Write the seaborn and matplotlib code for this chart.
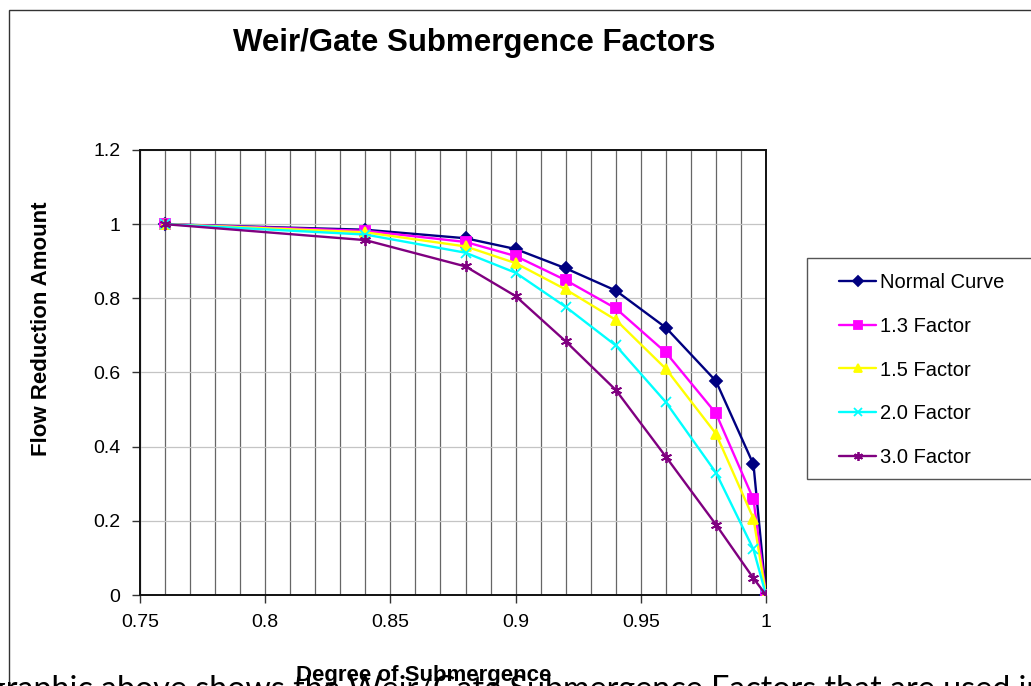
import matplotlib
matplotlib.use("Agg")
import matplotlib.pyplot as plt
from matplotlib.ticker import MultipleLocator, FuncFormatter
from matplotlib.patches import Rectangle
import seaborn as sns
import pandas as pd

# ---------------- data ----------------
submergence = [0.76, 0.84, 0.88, 0.90, 0.92, 0.94, 0.96, 0.98, 0.995, 1.0]
normal_curve = [1.0, 0.985, 0.962, 0.933, 0.881, 0.821, 0.721, 0.577, 0.352, 0.0]
factor_13 = [1.0, 0.982, 0.952, 0.914, 0.849, 0.773, 0.654, 0.490, 0.258, 0.0]
factor_15 = [1.0, 0.978, 0.940, 0.895, 0.824, 0.742, 0.610, 0.435, 0.206, 0.0]
factor_20 = [1.0, 0.972, 0.923, 0.869, 0.777, 0.673, 0.520, 0.330, 0.123, 0.0]
factor_30 = [1.0, 0.957, 0.886, 0.806, 0.684, 0.553, 0.373, 0.190, 0.045, 0.0]
series_names = ["Normal Curve", "1.3 Factor", "1.5 Factor", "2.0 Factor", "3.0 Factor"]
series_values = [normal_curve, factor_13, factor_15, factor_20, factor_30]

title_text = "Weir/Gate Submergence Factors"
xlabel_text = "Degree of Submergence"
ylabel_text = "Flow Reduction Amount"
body_text = "graphic above shows the Weir/Gate Submergence Factors that are used in"

# ---------------- styles ----------------
colors = ["#000080", "#FF00FF", "#FFFF00", "#00FFFF", "#800080"]
markers = ["D", "s", "^", "x", (6, 2, 0)]
msizes = [6, 7, 7.5, 7, 8]

sns.set_theme(style="white")
plt.rcParams["font.family"] = ["Liberation Sans", "DejaVu Sans"]
plt.rcParams["text.color"] = "black"
plt.rcParams["axes.labelcolor"] = "black"

W, H = 1031, 686
fig = plt.figure(figsize=(W / 100, H / 100), dpi=100)
ax = fig.add_axes([140 / W, 1 - 595 / H, (766 - 140) / W, (595 - 150) / H])

frames = []
for name, vals in zip(series_names, series_values):
    frames.append(pd.DataFrame({"x": submergence, "y": vals, "series": name}))
df = pd.concat(frames, ignore_index=True)

for name, c, m, ms in zip(series_names, colors, markers, msizes):
    sub = df[df["series"] == name]
    sns.lineplot(data=sub, x="x", y="y", ax=ax, color=c, marker=m,
                 markersize=ms, markeredgecolor=c, markeredgewidth=1.3,
                 linewidth=1.7, label=name, zorder=3, sort=False)

ax.set_xlim(0.75, 1.0)
ax.set_ylim(0, 1.2)
ax.xaxis.set_major_locator(MultipleLocator(0.05))
ax.xaxis.set_minor_locator(MultipleLocator(0.01))
ax.yaxis.set_major_locator(MultipleLocator(0.2))
fmt = FuncFormatter(lambda v, p: ("%.2f" % v).rstrip("0").rstrip("."))
ax.xaxis.set_major_formatter(fmt)
ax.yaxis.set_major_formatter(fmt)

ax.grid(False)
ax.xaxis.grid(True, which="both", color="#666666", linewidth=0.9)
ax.yaxis.grid(True, which="major", color="#c4c4c4", linewidth=0.9)
ax.set_axisbelow(True)

ax.tick_params(axis="both", which="major", direction="out", length=6, width=1,
               color="#333333", labelsize=14, pad=8, labelcolor="black")
ax.tick_params(axis="both", which="minor", length=0)
ax.tick_params(axis="x", bottom=True)
ax.tick_params(axis="y", left=True)

for s in ax.spines.values():
    s.set_color("#111111")
    s.set_linewidth(1.4)

ax.set_xlabel("")
ax.set_ylabel("")

# texts
fig.text(474 / W, 1 - 51 / H, title_text, ha="center", va="baseline",
         fontsize=22.5, fontweight="bold", color="black")
fig.text(42 / W, 1 - 329 / H, ylabel_text, ha="center", va="center",
         rotation=90, fontsize=16, fontweight="bold", color="black")
fig.text(424 / W, 1 - 681 / H, xlabel_text, ha="center", va="baseline",
         fontsize=16, fontweight="bold", color="black", zorder=5)
fig.text(1044 / W, 1 - 675 / H, body_text, ha="right", va="top",
         fontsize=23.2, family=["Lato", "DejaVu Sans"], color="black", zorder=4)

# outer chart frame
fig.patches.append(Rectangle((9 / W, -0.05), 1.2, 1 - 10 / H + 0.05,
                             transform=fig.transFigure, fill=False,
                             edgecolor="#333333", linewidth=1.0, zorder=-2))

# legend frame (drawn beneath the axes so the legend entries sit on top)
fig.patches.append(Rectangle((807 / W, 1 - 479 / H), 0.3, (479 - 258) / H,
                             transform=fig.transFigure, fill=True,
                             facecolor="white", edgecolor="#555555",
                             linewidth=1.0, zorder=-1))

# legend
leg = ax.legend(loc="upper left", bbox_to_anchor=(839 / W, 1 - 273 / H),
                bbox_transform=fig.transFigure, borderaxespad=0, borderpad=0,
                fontsize=14.5, labelspacing=1.23, handlelength=1.85,
                handletextpad=0.2, frameon=False, markerscale=0.8)
for t in leg.get_texts():
    t.set_color("black")

fig.savefig("out.png", dpi=100)
